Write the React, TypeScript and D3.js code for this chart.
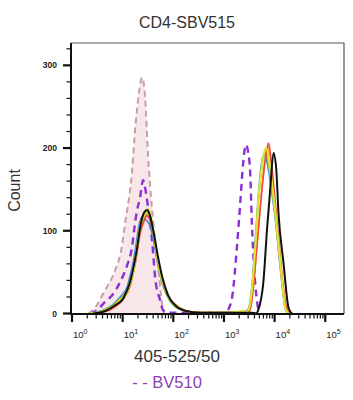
import * as d3 from 'd3';

type Pt = [number, number];

const TITLE = 'CD4-SBV515';
const X_LABEL = '405-525/50';
const Y_LABEL = 'Count';
const LEGEND = '- - BV510';

const xDecades = [0, 1, 2, 3, 4, 5];
const yMajor = [0, 100, 200, 300];

// unstained control, drawn filled with a dashed outline
const control: Pt[] = [
  [2.1, 0], [3.1, 10], [4.1, 24], [5.1, 34], [7.1, 52], [9.7, 82], [11.1, 108],
  [15.3, 172], [17.6, 222], [20.1, 258], [24.2, 285], [27.7, 262], [31.8, 190],
  [36.4, 140], [43.7, 88], [50, 58], [55, 32], [60, 12], [66, 0],
];

// BV510 (purple dashed)
const bv510: Pt[] = [
  [2.3, 0], [3.1, 4], [4.5, 14], [6.2, 22], [8.9, 38], [12.2, 58], [15.3, 80],
  [17.6, 110], [19.3, 125], [22, 140], [25.3, 161], [29, 145], [31.8, 128],
  [38.1, 88], [43.7, 44], [54.8, 16], [62.8, 4], [79, 1], [200, 1], [600, 1],
  [1057, 1], [1327, 10], [1453, 20], [1800, 80], [2089, 132], [2395, 182],
  [2710, 204], [3008, 195], [3296, 170], [3557, 110], [3954, 53], [4467, 16], [4962, 0],
];

const blue: Pt[] = [
  [2.1, 0], [3.1, 2], [4.5, 5], [6.5, 11], [8.9, 20], [10.2, 24], [12.2, 32], [14, 46],
  [16.1, 62], [18.4, 84], [20.1, 100], [22, 112], [24.2, 117], [26.5, 116], [29, 113],
  [33.3, 108], [38.1, 96], [47.9, 64], [54.8, 46], [62.8, 33], [86.5, 15], [136, 5],
  [215, 2], [340, 1], [1000, 1], [1800, 2], [2400, 2],
  [2750, 3], [3050, 6], [3550, 32], [4140, 88], [4800, 145], [5450, 180], [6040, 191],
  [6730, 188], [7480, 175], [8570, 150], [10280, 115], [12900, 55], [16200, 6], [18200, 0],
];

const green: Pt[] = [
  [2.1, 0], [3.1, 1], [4.5, 5], [6.5, 10], [8.9, 18], [10.2, 21], [12.2, 27], [14, 40],
  [16.1, 52], [18.4, 76], [20.1, 92], [22, 106], [25.3, 118], [29, 120], [33.3, 116],
  [38.1, 104], [47.9, 66], [54.8, 47], [62.8, 34], [86.5, 15], [136, 5], [215, 2],
  [340, 1], [1000, 1], [1800, 2], [2400, 2],
  [2750, 2], [3050, 4], [3560, 28], [4140, 80], [4810, 140], [5690, 180], [6300, 195],
  [7000, 190], [8190, 170], [10280, 121], [12900, 61], [16200, 7], [18580, 0],
];

const lightGreen: Pt[] = [
  [2.1, 0], [3.1, 1], [4.5, 4], [6.5, 9], [8.9, 17], [10.2, 20], [12.2, 26], [14, 38],
  [16.1, 50], [18.4, 74], [20.1, 90], [22, 105], [25.3, 117], [29.9, 122], [33.3, 119],
  [38.1, 106], [47.9, 68], [54.8, 48], [62.8, 35], [86.5, 16], [136, 6], [215, 2],
  [340, 1], [1000, 1], [1800, 2], [2400, 3],
  [2750, 2], [3050, 5], [3560, 30], [4140, 82], [4810, 142], [5690, 182], [6500, 198],
  [7200, 190], [8190, 168], [10280, 118], [12900, 58], [16200, 6], [18580, 0],
];

const orange: Pt[] = [
  [2.5, 0], [3.6, 1], [5, 4], [7.1, 9], [10.2, 18], [14, 34], [18.4, 68], [22, 98],
  [26.5, 114], [31, 120], [35, 116], [40, 100], [47.9, 72], [54.8, 52], [62.8, 38],
  [86.5, 18], [136, 7], [215, 2], [340, 1], [1000, 1], [1800, 2], [2600, 2],
  [2870, 1], [3300, 5], [3780, 30], [4530, 85], [5430, 142], [6520, 188], [7300, 202],
  [8190, 185], [9500, 150], [11250, 100], [13800, 45], [17000, 8], [19450, 0],
];

const red: Pt[] = [
  [2.5, 0], [3.6, 1], [5, 3], [7.1, 8], [10.2, 17], [14, 33], [18.4, 66], [22, 96],
  [26.5, 112], [30, 118], [34, 114], [40, 98], [47.9, 70], [54.8, 50], [62.8, 36],
  [86.5, 17], [136, 6], [215, 2], [340, 1], [1000, 1], [1800, 2], [2600, 2],
  [2873, 0], [3296, 5], [3777, 30], [4530, 85], [5430, 140], [6520, 185], [7568, 206],
  [8570, 185], [10280, 135], [12900, 70], [16200, 14], [19450, 0],
];

const yellow: Pt[] = [
  [2.1, 0], [3.1, 1], [4.5, 4], [6.5, 9], [8.9, 16], [10.2, 19], [12.2, 25], [14, 36],
  [16.1, 48], [18.4, 72], [20.1, 88], [22, 104], [25.3, 118], [29.9, 125], [31.8, 127],
  [34.8, 121], [38.1, 110], [47.9, 70], [54.8, 50], [62.8, 37], [86.5, 17], [136, 6],
  [215, 2], [340, 1], [1000, 1], [1800, 2], [2400, 3],
  [2750, 2], [3050, 4], [3560, 27], [4140, 78], [4810, 138], [5690, 180], [6730, 200],
  [7480, 192], [8570, 165], [10280, 125], [12900, 64], [16200, 8], [18580, 0],
];

const black: Pt[] = [
  [2.6, 0], [4.5, 3], [7.1, 10], [10.2, 18], [14, 38], [18.4, 72], [23.1, 110],
  [26.5, 122], [30.4, 125], [34.8, 118], [41.8, 95], [50, 68], [60, 45], [78.9, 22],
  [113, 9], [179, 3], [339, 1], [1000, 1], [2000, 1], [3500, 1],
  [4330, 0], [4742, 4], [6040, 40], [7050, 100], [8186, 150], [9510, 194], [10760, 175],
  [11940, 121], [15000, 61], [18830, 7], [21980, 0],
];

const solidSeries = [
  { data: blue, color: '#4a86d8', width: 1.5 },
  { data: green, color: '#3cb54a', width: 1.6 },
  { data: lightGreen, color: '#a6dc4c', width: 1.7 },
  { data: orange, color: '#f3a63e', width: 1.6 },
  { data: red, color: '#ec4a3c', width: 1.6 },
  { data: yellow, color: '#e3e430', width: 1.9 },
  { data: black, color: '#111111', width: 2 },
];

const W = 353;
const H = 400;
const plot = { left: 71, right: 344, top: 43, bottom: 314 };

export default function App() {
  const xScale = d3
    .scaleLog()
    .domain([Math.pow(10, -0.02), Math.pow(10, 5.37)])
    .range([plot.left, plot.right]);
  const yScale = d3.scaleLinear().domain([0, 327]).range([plot.bottom - 0.5, plot.top]);

  const line = d3
    .line<Pt>()
    .x((d) => xScale(d[0]))
    .y((d) => yScale(d[1]))
    .curve(d3.curveMonotoneX);
  const area = d3
    .area<Pt>()
    .x((d) => xScale(d[0]))
    .y0(yScale(0))
    .y1((d) => yScale(d[1]))
    .curve(d3.curveMonotoneX);

  const xTicks = xScale.ticks().filter((v) => v >= 1 && v <= 1e5);
  const yTicks = yScale.ticks(14);
  const font = "'Liberation Sans', Arial, sans-serif";

  return (
    <svg
      width={W}
      height={H}
      style={{ position: 'absolute', left: 0, top: 0, background: '#fff' }}
    >
      <text x={187} y={28} textAnchor="middle" fontSize={16} fill="#333" fontFamily={font}>
        {TITLE}
      </text>

      {/* frame */}
      <line x1={plot.left} x2={plot.right} y1={plot.top} y2={plot.top} stroke="#555" strokeWidth={1.2} />
      <line x1={plot.right} x2={plot.right} y1={plot.top} y2={plot.bottom} stroke="#555" strokeWidth={1.2} />

      {/* histograms */}
      <path d={area(control) || ''} fill="#f7e7e8" />
      <path d={line(control) || ''} fill="none" stroke="#c79ea4" strokeWidth={2} strokeDasharray="6 4" />
      <path d={line(bv510) || ''} fill="none" stroke="#8b2fd6" strokeWidth={2.4} strokeDasharray="7 5" />
      {solidSeries.map((s, i) => (
        <path key={i} d={line(s.data) || ''} fill="none" stroke={s.color} strokeWidth={s.width} strokeLinejoin="round" />
      ))}

      {/* y axis */}
      <line x1={plot.left} x2={plot.left} y1={plot.top} y2={plot.bottom + 1} stroke="#111" strokeWidth={2} />
      {yTicks.map((v) => {
        const major = yMajor.includes(v);
        return (
          <line
            key={v}
            x1={plot.left - (major ? 8 : 4.5)}
            x2={plot.left}
            y1={yScale(v)}
            y2={yScale(v)}
            stroke="#111"
            strokeWidth={major ? 2.2 : 1.2}
          />
        );
      })}
      {yMajor.map((v) => (
        <text key={v} x={57} y={yScale(v) + 3} textAnchor="end" fontSize={8.5} fontWeight="bold" fill="#222" fontFamily={font}>
          {v}
        </text>
      ))}
      <text
        transform={`translate(20, ${(plot.top + plot.bottom) / 2 + 12}) rotate(-90)`}
        textAnchor="middle"
        fontSize={16}
        fill="#333"
        fontFamily={font}
      >
        {Y_LABEL}
      </text>

      {/* x axis */}
      <line x1={plot.left - 1} x2={plot.right} y1={plot.bottom} y2={plot.bottom} stroke="#111" strokeWidth={2} />
      {xTicks.map((v, i) => {
        const lg = Math.log10(v);
        const major = Math.abs(lg - Math.round(lg)) < 1e-6;
        return (
          <line
            key={i}
            x1={xScale(v)}
            x2={xScale(v)}
            y1={plot.bottom}
            y2={plot.bottom + (major ? 8 : 4.5)}
            stroke="#111"
            strokeWidth={major ? 2.2 : 1.2}
          />
        );
      })}
      {xDecades.map((p) => (
        <text key={p} x={xScale(Math.pow(10, p)) + 1} y={338} fontSize={9.5} fill="#222" fontFamily={font}>
          10
          <tspan dy={-4} fontSize={7}>
            {p}
          </tspan>
        </text>
      ))}
      <text x={177} y={362} textAnchor="middle" fontSize={17} fill="#333" fontFamily={font}>
        {X_LABEL}
      </text>
      <text x={167} y={388} textAnchor="middle" fontSize={16.5} fill="#8e3fae" fontFamily={font}>
        {LEGEND}
      </text>
    </svg>
  );
}
